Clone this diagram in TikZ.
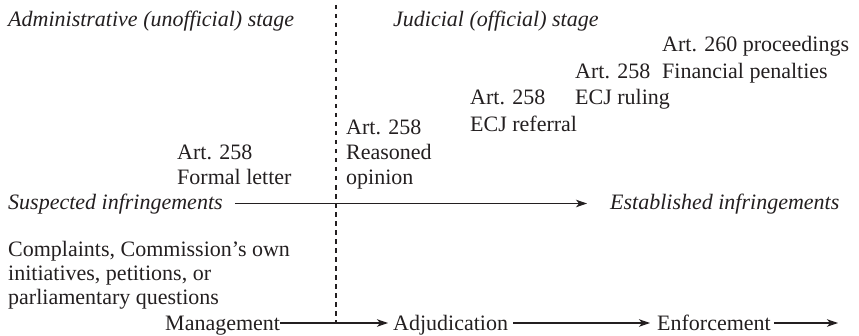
\documentclass[tikz,border=0pt]{standalone}
\usepackage{fontspec}
\setmainfont{Liberation Serif}
\usetikzlibrary{arrows.meta,positioning}
\definecolor{ink}{RGB}{35,31,32}

\begin{document}
\begin{tikzpicture}[
x=1pt, y=1pt,
txt/.style={anchor=base west, inner sep=0pt, text=ink, font=\fontsize{22}{26}\selectfont},
stg/.style={txt, font=\fontsize{22}{26}\selectfont\itshape},
flow/.style={draw=ink, line width=1.1pt, -{Stealth[length=11pt,width=7.5pt,inset=3pt]}},
divider/.style={draw=ink, line width=1.2pt, dash pattern=on 4.5pt off 4.5pt}
]
\useasboundingbox (0,0) rectangle (859,335);
%Nodes
\node[stg]  (adm)      at (8,308)    {Administrative (unofficial) stage};
\node[stg]  (jud)      at (393,308)  {Judicial (official) stage};
\node[txt]  (a260)     at (662,283)  {Art. 260 proceedings};
\node[txt]  (fin)      at ([yshift=-26.5pt]a260.base west)  {Financial penalties};
\node[txt]  (a258r)    at (575,256.5) {Art. 258};
\node[txt]  (ruling)   at ([yshift=-26.5pt]a258r.base west) {ECJ ruling};
\node[txt]  (a258e)    at (470,230)  {Art. 258};
\node[txt]  (referral) at ([yshift=-26.5pt]a258e.base west) {ECJ referral};
\node[txt]  (a258o)    at (346,200)  {Art. 258};
\node[txt]  (reasoned) at ([yshift=-25pt]a258o.base west) {Reasoned};
\node[txt]  (opinion)  at ([yshift=-25pt]reasoned.base west) {opinion};
\node[txt]  (a258f)    at (177,175)  {Art. 258};
\node[txt]  (formal)   at ([yshift=-25pt]a258f.base west) {Formal letter};
\node[stg]  (suspect)  at (8,125)    {Suspected infringements};
\node[stg]  (establ)   at (610,125)  {Established infringements};
\node[txt]  (compl)    at (8,79)     {Complaints, Commission’s own};
\node[txt]  (initiat)  at ([yshift=-24pt]compl.base west)   {initiatives, petitions, or};
\node[txt]  (parlq)    at ([yshift=-24pt]initiat.base west) {parliamentary questions};
\node[txt]  (manag)    at (165,5)    {Management};
\node[txt]  (adjud)    at (393,5)    {Adjudication};
\node[txt]  (enforc)   at (657,5)    {Enforcement};
\coordinate (endflow)  at (838,12);
\coordinate (divtop)   at (336,330);
\coordinate (divbot)   at (336,12);
%Lines
\draw[divider] (divtop) -- (divbot);
\draw[flow] ([xshift=12pt,yshift=6.5pt]suspect.base east) -- ([xshift=-23pt,yshift=6.5pt]establ.base west);
\draw[flow] ([yshift=7pt]manag.base east) -- ([xshift=-5pt,yshift=7pt]adjud.base west);
\draw[flow] ([xshift=5pt,yshift=7pt]adjud.base east) -- ([xshift=-7pt,yshift=7pt]enforc.base west);
\draw[flow] ([xshift=3pt,yshift=7pt]enforc.base east) -- (endflow);
\end{tikzpicture}
\end{document}
